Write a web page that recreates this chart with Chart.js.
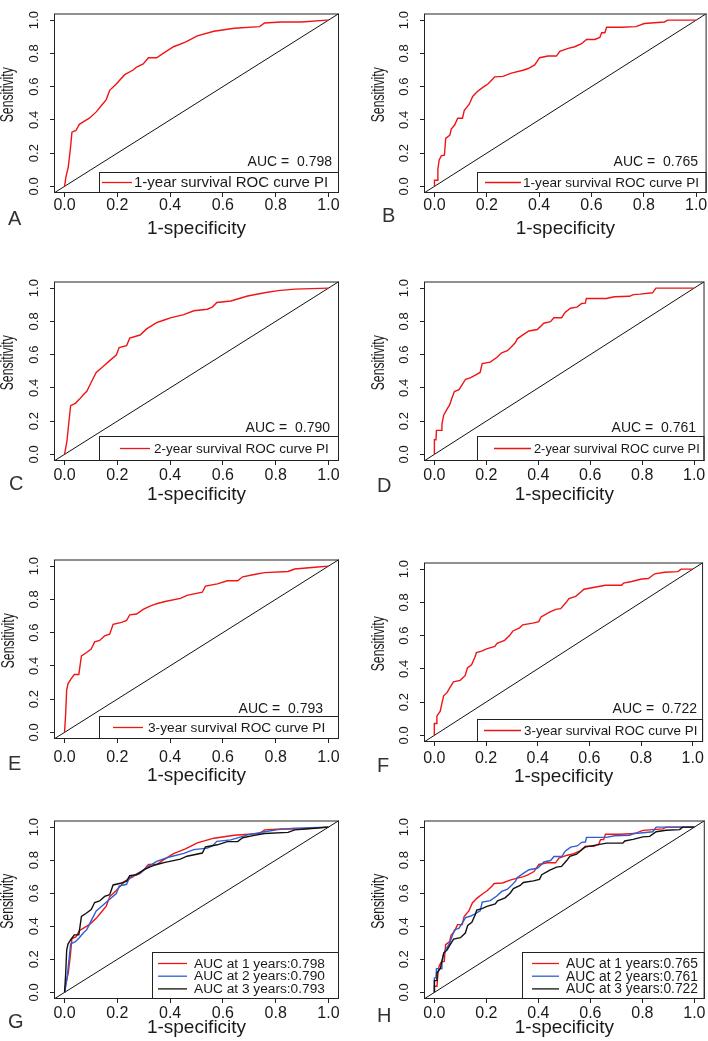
<!DOCTYPE html>
<html>
<head>
<meta charset="utf-8">
<script src="https://cdn.jsdelivr.net/npm/chart.js@4.4.1/dist/chart.umd.min.js"></script>
<style>
  html, body { margin: 0; padding: 0; background: #fff; overflow: hidden; }
  #wrap { position: relative; width: 708px; height: 1041px; }
  #wrap canvas { position: absolute; display: block; }
</style>
</head>
<body>
<div id="wrap"></div>
<script>
// ROC curves (1-specificity / sensitivity)
const fprA = [0, 0.005, 0.014, 0.022, 0.028, 0.043, 0.056, 0.075, 0.094, 0.12, 0.139, 0.158, 0.171, 0.196, 0.228, 0.26, 0.273, 0.298, 0.318, 0.349, 0.375, 0.413, 0.458, 0.503, 0.566, 0.643, 0.739, 0.758, 0.821, 0.898, 0.994, 1];
const tprA = [0, 0.056, 0.116, 0.224, 0.326, 0.336, 0.373, 0.392, 0.41, 0.448, 0.485, 0.522, 0.578, 0.616, 0.672, 0.7, 0.718, 0.737, 0.774, 0.774, 0.802, 0.84, 0.868, 0.905, 0.933, 0.951, 0.961, 0.983, 0.989, 0.989, 1, 1];

const fprB = [0, 0, 0.010, 0.013, 0.018, 0.026, 0.038, 0.043, 0.059, 0.064, 0.077, 0.089, 0.107, 0.114, 0.133, 0.146, 0.163, 0.186, 0.204, 0.222, 0.23, 0.262, 0.294, 0.342, 0.358, 0.383, 0.402, 0.434, 0.466, 0.479, 0.511, 0.536, 0.562, 0.581, 0.613, 0.632, 0.639, 0.651, 0.658, 0.715, 0.77, 0.802, 0.879, 0.891, 1];
const tprB = [0, 0.037, 0.037, 0.103, 0.159, 0.183, 0.187, 0.289, 0.308, 0.345, 0.369, 0.41, 0.41, 0.457, 0.494, 0.541, 0.569, 0.597, 0.616, 0.644, 0.659, 0.662, 0.681, 0.7, 0.709, 0.731, 0.774, 0.784, 0.784, 0.812, 0.83, 0.84, 0.858, 0.884, 0.884, 0.896, 0.924, 0.924, 0.957, 0.957, 0.961, 0.98, 0.989, 1, 1];

const fprC = [0, 0.009, 0.015, 0.023, 0.041, 0.056, 0.071, 0.085, 0.101, 0.12, 0.145, 0.171, 0.196, 0.207, 0.235, 0.247, 0.286, 0.311, 0.349, 0.375, 0.401, 0.452, 0.49, 0.541, 0.56, 0.577, 0.63, 0.694, 0.758, 0.809, 0.872, 1];
const tprC = [0, 0.079, 0.172, 0.293, 0.307, 0.331, 0.359, 0.381, 0.434, 0.493, 0.527, 0.564, 0.598, 0.643, 0.654, 0.699, 0.718, 0.755, 0.793, 0.807, 0.821, 0.841, 0.864, 0.873, 0.886, 0.914, 0.923, 0.953, 0.972, 0.985, 0.994, 1];

const fprD = [0, 0, 0.006, 0.008, 0.026, 0.029, 0.036, 0.046, 0.059, 0.066, 0.077, 0.095, 0.107, 0.12, 0.14, 0.161, 0.176, 0.184, 0.215, 0.24, 0.259, 0.281, 0.294, 0.312, 0.319, 0.345, 0.364, 0.396, 0.409, 0.421, 0.447, 0.46, 0.49, 0.503, 0.524, 0.549, 0.567, 0.581, 0.585, 0.662, 0.693, 0.751, 0.766, 0.792, 0.84, 0.853, 1];
const tprD = [0, 0.088, 0.088, 0.144, 0.144, 0.181, 0.237, 0.265, 0.299, 0.331, 0.378, 0.389, 0.419, 0.452, 0.462, 0.48, 0.493, 0.546, 0.555, 0.583, 0.611, 0.624, 0.643, 0.673, 0.695, 0.723, 0.742, 0.751, 0.77, 0.789, 0.798, 0.822, 0.822, 0.854, 0.879, 0.886, 0.908, 0.91, 0.938, 0.938, 0.948, 0.951, 0.961, 0.964, 0.972, 1, 1];

const fprE = [0, 0.004, 0.008, 0.013, 0.024, 0.037, 0.054, 0.059, 0.064, 0.082, 0.101, 0.114, 0.133, 0.152, 0.171, 0.184, 0.216, 0.235, 0.247, 0.273, 0.298, 0.324, 0.349, 0.381, 0.439, 0.464, 0.522, 0.534, 0.579, 0.617, 0.656, 0.675, 0.719, 0.758, 0.847, 0.872, 0.949, 1];
const tprE = [0, 0.105, 0.254, 0.292, 0.32, 0.348, 0.348, 0.404, 0.46, 0.479, 0.501, 0.544, 0.553, 0.581, 0.591, 0.65, 0.662, 0.673, 0.707, 0.712, 0.74, 0.759, 0.774, 0.787, 0.806, 0.824, 0.843, 0.88, 0.893, 0.912, 0.912, 0.936, 0.95, 0.961, 0.968, 0.983, 0.993, 1];

const fprF = [0, 0, 0.008, 0.01, 0.023, 0.029, 0.036, 0.049, 0.059, 0.074, 0.1, 0.119, 0.128, 0.144, 0.157, 0.163, 0.183, 0.202, 0.234, 0.243, 0.272, 0.291, 0.304, 0.33, 0.342, 0.381, 0.404, 0.413, 0.444, 0.47, 0.489, 0.508, 0.521, 0.547, 0.566, 0.579, 0.61, 0.662, 0.725, 0.732, 0.764, 0.802, 0.828, 0.853, 0.891, 0.943, 0.955, 1];
const tprF = [0, 0.071, 0.071, 0.117, 0.145, 0.191, 0.238, 0.257, 0.284, 0.322, 0.331, 0.359, 0.405, 0.424, 0.47, 0.498, 0.507, 0.52, 0.535, 0.554, 0.572, 0.6, 0.628, 0.647, 0.665, 0.675, 0.684, 0.712, 0.74, 0.758, 0.762, 0.796, 0.823, 0.836, 0.861, 0.879, 0.888, 0.903, 0.903, 0.916, 0.926, 0.941, 0.944, 0.972, 0.981, 0.985, 1, 1];

// reference diagonal spans the whole plot box (R abline)
const diagX = [-0.04, 1.04];
const diagY = [-0.04, 1.04];

const tickValues = [0, 0.2, 0.4, 0.6, 0.8, 1.0];

const RED = '#f01414';
const BLUE = '#2d5fd3';
const BLACK = '#111';

const sans = "'Liberation Sans', Arial, sans-serif";

function pts(xs, ys) {
	return xs.map((x, i) => ({ x: x, y: ys[i] }));
}

const panels = [
	{ letter: 'A', x: 0, T: 0, H: 250, padL: 0, yW: 54, padR: 15, axisH: 57, xTickPad: 0.75, titlePad: 12, ytx: 8.5,
		curves: [{ x: fprA, y: tprA, color: RED, label: '1-year survival ROC curve PI' }],
		legend: { left: 99, top: 172, x0: 102, x1: 132, tx: 134, fs: 15 },
		auc: { text: 'AUC =  0.798', x: 332, y: 166 }, lp: { x: 8, y: 225 } },
	{ letter: 'B', x: 354, T: 0, H: 250, padL: 14, yW: 56, padR: 0, axisH: 57, xTickPad: 0.75, titlePad: 12, ytx: 25.5,
		curves: [{ x: fprB, y: tprB, color: RED, label: '1-year survival ROC curve PI' }],
		legend: { left: 123, top: 172, x0: 131, x1: 167, tx: 169, fs: 13.6 },
		auc: { text: 'AUC =  0.765', x: 344, y: 166 }, lp: { x: 28, y: 222 } },
	{ letter: 'C', x: 0, T: 268, H: 250, padL: 0, yW: 54, padR: 15, axisH: 57, xTickPad: 2.75, titlePad: 13.7, ytx: 8.5,
		curves: [{ x: fprC, y: tprC, color: RED, label: '2-year survival ROC curve PI' }],
		legend: { left: 99, top: 168, x0: 120, x1: 150, tx: 154, fs: 13.5 },
		auc: { text: 'AUC =  0.790', x: 330, y: 164 }, lp: { x: 9, y: 222 } },
	{ letter: 'D', x: 354, T: 268, H: 250, padL: 14, yW: 56, padR: 0, axisH: 57, xTickPad: 2.75, titlePad: 13.7, ytx: 25.5,
		curves: [{ x: fprD, y: tprD, color: RED, label: '2-year survival ROC curve PI' }],
		legend: { left: 123, top: 168, x0: 140, x1: 177, tx: 180, fs: 12.8 },
		auc: { text: 'AUC =  0.761', x: 342, y: 164 }, lp: { x: 23, y: 224 } },
	{ letter: 'E', x: 0, T: 546, H: 250, padL: 0, yW: 54, padR: 15, axisH: 57, xTickPad: 6.45, titlePad: 10.7, ytx: 9,
		curves: [{ x: fprE, y: tprE, color: RED, label: '3-year survival ROC curve PI' }],
		legend: { left: 99, top: 170, x0: 113, x1: 143, tx: 148, fs: 13.7 },
		auc: { text: 'AUC =  0.793', x: 323, y: 167 }, lp: { x: 8, y: 224 } },
	{ letter: 'F', x: 354, T: 549, H: 250, padL: 14, yW: 56, padR: 0, axisH: 57, xTickPad: 4.15, titlePad: 13, ytx: 25,
		curves: [{ x: fprF, y: tprF, color: RED, label: '3-year survival ROC curve PI' }],
		legend: { left: 123, top: 170, x0: 130, x1: 167, tx: 170, fs: 13.4 },
		auc: { text: 'AUC =  0.722', x: 343, y: 164 }, lp: { x: 23, y: 223 } },
	{ letter: 'G', x: 0, T: 807, H: 234, padL: 0, yW: 54, padR: 15, axisH: 42, xTickPad: 2.5, titlePad: 3.5, ytx: 8.5,
		curves: [
			{ x: fprA, y: tprA, color: RED, label: 'AUC at 1 years:0.798' },
			{ x: fprC, y: tprC, color: BLUE, label: 'AUC at 2 years:0.790' },
			{ x: fprE, y: tprE, color: BLACK, label: 'AUC at 3 years:0.793' }],
		legend: { left: 152, top: 145, x0: 158, x1: 187, tx: 194, fs: 13.7 },
		auc: null, lp: { x: 8, y: 221 } },
	{ letter: 'H', x: 354, T: 807, H: 234, padL: 14, yW: 56, padR: 0, axisH: 42, xTickPad: 2.5, titlePad: 4, ytx: 25,
		curves: [
			{ x: fprB, y: tprB, color: RED, label: 'AUC at 1 years:0.765' },
			{ x: fprD, y: tprD, color: BLUE, label: 'AUC at 2 years:0.761' },
			{ x: fprF, y: tprF, color: BLACK, label: 'AUC at 3 years:0.722' }],
		legend: { left: 168, top: 145, x0: 178, x1: 205, tx: 212, fs: 13.8 },
		auc: null, lp: { x: 23, y: 215 } },
];

// frame, legend box, AUC text, condensed y title and panel letter
function decor(p) {
	return {
		id: 'decor' + p.letter,
		afterDatasetsDraw(chart) {
			const ctx = chart.ctx;
			const a = chart.chartArea;
			const lg = p.legend;
			ctx.save();
			ctx.fillStyle = '#fff';
			ctx.fillRect(lg.left, lg.top, a.right - lg.left, a.bottom - lg.top);
			ctx.strokeStyle = '#222';
			ctx.lineWidth = 1;
			ctx.strokeRect(lg.left + 0.5, lg.top + 0.5, a.right - lg.left - 1, a.bottom - lg.top - 1);

			const n = p.curves.length;
			const rowH = 12.7;
			ctx.font = lg.fs + 'px ' + sans;
			ctx.textBaseline = 'middle';
			ctx.textAlign = 'left';
			p.curves.forEach((c, i) => {
				const y = n === 1 ? (lg.top + a.bottom) / 2 : lg.top + 11.5 + i * rowH;
				ctx.strokeStyle = c.color;
				ctx.lineWidth = 1.3;
				ctx.beginPath();
				ctx.moveTo(lg.x0, y);
				ctx.lineTo(lg.x1, y);
				ctx.stroke();
				ctx.fillStyle = '#1a1a1a';
				ctx.fillText(c.label, lg.tx, y + 0.5);
			});

			if (p.auc) {
				ctx.font = '14px ' + sans;
				ctx.textAlign = 'right';
				ctx.textBaseline = 'alphabetic';
				ctx.fillStyle = '#1a1a1a';
				ctx.fillText(p.auc.text, p.auc.x, p.auc.y);
			}

			ctx.strokeStyle = '#222';
			ctx.lineWidth = 1;
			ctx.strokeRect(a.left + 0.5, a.top + 0.5, a.right - a.left - 1, a.bottom - a.top - 1);

			// y axis title, rotated and condensed like the original
			ctx.save();
			ctx.translate(p.ytx, (a.top + a.bottom) / 2 - 8.5);
			ctx.rotate(-Math.PI / 2);
			ctx.scale(0.68, 1);
			ctx.font = '18px ' + sans;
			ctx.textAlign = 'center';
			ctx.textBaseline = 'middle';
			ctx.fillStyle = '#1a1a1a';
			ctx.fillText('Sensitivity', 0, 0);
			ctx.restore();

			ctx.font = '20px ' + sans;
			ctx.textAlign = 'left';
			ctx.textBaseline = 'alphabetic';
			ctx.fillStyle = '#333';
			ctx.fillText(p.letter, p.lp.x, p.lp.y);
			ctx.restore();
		}
	};
}

const wrap = document.getElementById('wrap');

panels.forEach(function (p) {
	const canvas = document.createElement('canvas');
	canvas.width = 354;
	canvas.height = p.H;
	canvas.style.left = p.x + 'px';
	canvas.style.top = p.T + 'px';
	canvas.style.width = '354px';
	canvas.style.height = p.H + 'px';
	wrap.appendChild(canvas);

	const datasets = [{
		data: pts(diagX, diagY),
		showLine: true,
		borderColor: BLACK,
		borderWidth: 1,
		pointRadius: 0,
		order: 10,
	}];
	p.curves.forEach((c, i) => {
		datasets.push({
			data: pts(c.x, c.y),
			showLine: true,
			borderColor: c.color,
			borderWidth: 1.4,
			pointRadius: 0,
			tension: 0,
			order: 5 - i,
		});
	});

	const setTicks = s => { s.ticks = tickValues.map(v => ({ value: v })); };
	const tickMarks = { drawOnChartArea: false, drawTicks: true, tickLength: 4, color: '#222', lineWidth: 1 };

	new Chart(canvas, {
		type: 'scatter',
		data: { datasets: datasets },
		options: {
			responsive: false,
			animation: false,
			events: [],
			layout: { padding: { left: p.padL, right: p.padR, top: 1, bottom: 0 } },
			plugins: { legend: { display: false }, tooltip: { enabled: false } },
			scales: {
				x: {
					type: 'linear', min: -0.04, max: 1.04,
					afterBuildTicks: setTicks,
					afterFit: s => { s.height = p.axisH; },
					ticks: {
						autoSkip: false, minRotation: 0, maxRotation: 0,
						padding: p.xTickPad, color: '#1a1a1a',
						font: { family: sans, size: 16, lineHeight: 1 },
						callback: v => v.toFixed(1),
					},
					grid: tickMarks,
					border: { display: false },
					title: {
						display: true, text: '1-specificity', color: '#1a1a1a',
						font: { family: sans, size: 19, lineHeight: 1 },
						padding: { top: 0, bottom: p.titlePad },
					},
				},
				y: {
					type: 'linear', min: -0.04, max: 1.04,
					afterBuildTicks: setTicks,
					afterFit: s => { s.width = p.yW; },
					ticks: {
						autoSkip: false, minRotation: 90, maxRotation: 90, crossAlign: 'center',
						padding: 7, color: '#1a1a1a',
						font: { family: sans, size: 13, lineHeight: 1 },
						callback: v => v.toFixed(1),
					},
					grid: tickMarks,
					border: { display: false },
					title: { display: false },
				},
			},
		},
		plugins: [decor(p)],
	});
});
</script>
</body>
</html>
